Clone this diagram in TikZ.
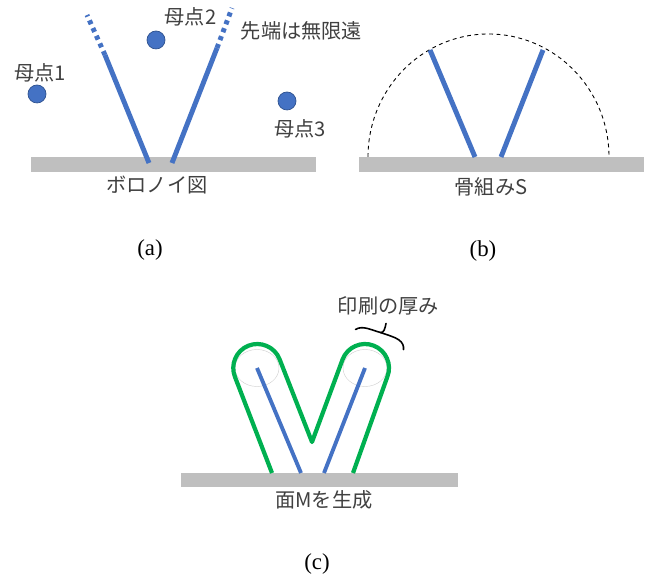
\documentclass[tikz,border=0pt]{standalone}
\usepackage{fontspec}
\setmainfont{Noto Sans CJK JP}
\newfontfamily\capfont{Liberation Serif}
\definecolor{skelblue}{HTML}{4472C4}
\definecolor{seededge}{HTML}{2F528F}
\definecolor{basegray}{HTML}{BFBFBF}
\definecolor{surfgreen}{HTML}{00B050}
\begin{document}
\begin{tikzpicture}[
  base/.style={rectangle, fill=basegray, minimum height=0.3cm, inner sep=0pt},
  seed/.style={circle, fill=skelblue, draw=seededge, line width=0.4pt,
    minimum size=0.36cm, inner sep=0pt},
  lbl/.style={font=\fontsize{11.5}{14}\selectfont, text=black!75, inner sep=0pt},
  caption/.style={font=\capfont\fontsize{13}{15}\selectfont, inner sep=0pt},
  skel/.style={skelblue, line width=2.8pt},
  skelfar/.style={skel, dash pattern=on 2.4pt off 2.4pt},
  thinskel/.style={skelblue, line width=2.2pt},
  offsetline/.style={surfgreen, line width=2.4pt, line join=round},
  guide/.style={black!18, line width=0.25pt},
]
\useasboundingbox (0,0) rectangle (13.02,11.52);

% (a) Voronoi diagram
\node[base, minimum width=5.7cm] (baseA) at (3.47,8.23) {};
\coordinate (aLfoot) at (2.98,8.26);
\coordinate (aLmid) at (2.10,10.42);
\coordinate (aLend) at (1.74,11.22);
\coordinate (aRfoot) at (3.44,8.26);
\coordinate (aRmid) at (4.34,10.56);
\coordinate (aRend) at (4.64,11.36);
\draw[skel] (aLfoot) -- (aLmid);
\draw[skelfar] (aLmid) -- (aLend);
\draw[skel] (aRfoot) -- (aRmid);
\draw[skelfar] (aRmid) -- (aRend);
\node[seed] (seed1) at (0.74,9.64) {};
\node[seed] (seed2) at (3.12,10.72) {};
\node[seed] (seed3) at (5.74,9.50) {};
\node[lbl] (seed1lbl) at (0.80,10.06) {母点1};
\node[lbl] (seed2lbl) at (3.81,11.18) {母点2};
\node[lbl] (seed3lbl) at (6.00,8.94) {母点3};
\node[lbl] (farlbl) at (6.03,10.90) {先端は無限遠};
\node[lbl] (baseAlbl) at (3.14,7.82) {ボロノイ図};
\node[caption] (capA) at (3.00,6.52) {(a)};

% (b) Skeleton
\node[base, minimum width=5.7cm] (baseB) at (10.03,8.23) {};
\draw[black, line width=0.5pt, dash pattern=on 2.2pt off 2pt]
  (7.36,8.38) arc[start angle=180, end angle=0, x radius=2.41, y radius=2.46];
\coordinate (bLfoot) at (9.50,8.38);
\coordinate (bLend) at (8.60,10.52);
\coordinate (bRfoot) at (10.02,8.38);
\coordinate (bRend) at (10.86,10.52);
\draw[skel] (bLfoot) -- (bLend);
\draw[skel] (bRfoot) -- (bRend);
\node[lbl] (baseBlbl) at (9.82,7.78) {骨組みS};
\node[caption] (capB) at (9.66,6.50) {(b)};

% (c) Surface from the print thickness
\node[base, minimum width=5.54cm, minimum height=0.28cm] (baseC) at (6.39,1.92) {};
\coordinate (cLtop) at (5.14,4.16);
\coordinate (cLfoot) at (6.02,2.06);
\coordinate (cRtop) at (7.30,4.16);
\coordinate (cRfoot) at (6.48,2.06);
\draw[guide] (cLtop) circle[x radius=0.44, y radius=0.37];
\draw[guide] (cRtop) circle[x radius=0.44, y radius=0.37];
\draw[thinskel] (cLfoot) -- (cLtop);
\draw[thinskel] (cRfoot) -- (cRtop);
\draw[offsetline] (5.44,2.06) -- (4.70,3.98)
  arc[start angle=202, end angle=22, radius=0.48]
  -- (6.24,2.68) -- (6.853,4.335)
  arc[start angle=158.6, end angle=-21.4, radius=0.48]
  -- (7.06,2.06);
% hand drawn brace
\draw[black, line width=0.9pt, line cap=round]
  (7.11,4.93) .. controls (7.25,5.02) and (7.42,4.92) .. (7.61,4.87)
  .. controls (7.68,4.86) and (7.70,4.95) .. (7.72,5.05);
\draw[black, line width=0.9pt, line cap=round]
  (7.61,4.87) .. controls (7.75,4.82) and (7.90,4.78) .. (7.98,4.72)
  .. controls (8.05,4.67) and (8.08,4.60) .. (8.07,4.53);
\node[lbl] (thicklbl) at (7.77,5.40) {印刷の厚み};
\node[lbl] (baseClbl) at (6.48,1.52) {面Mを生成};
\node[caption] (capC) at (6.34,0.24) {(c)};

\end{tikzpicture}
\end{document}
